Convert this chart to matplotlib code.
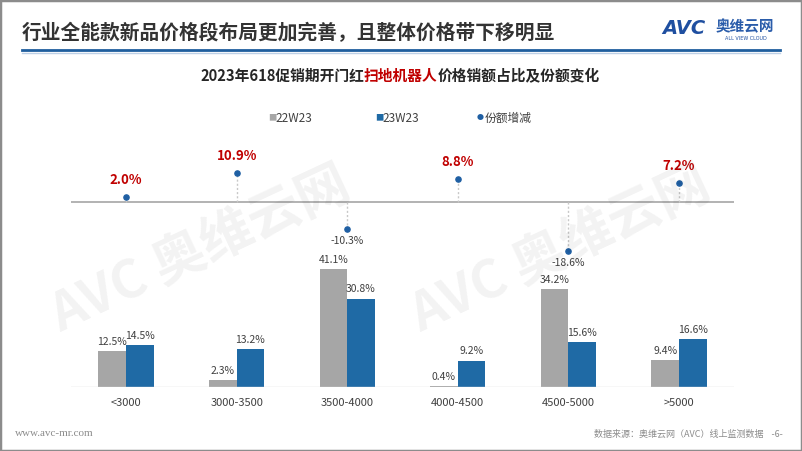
import matplotlib
matplotlib.use("Agg")
import matplotlib.pyplot as plt
import numpy as np
from matplotlib.patches import Rectangle
from matplotlib.lines import Line2D

plt.rcParams['font.family'] = ['Noto Sans CJK SC', 'DejaVu Sans']

categories = ['<3000', '3000-3500', '3500-4000', '4000-4500', '4500-5000', '>5000']
share_22w23 = [12.5, 2.3, 41.1, 0.4, 34.2, 9.4]
share_23w23 = [14.5, 13.2, 30.8, 9.2, 15.6, 16.6]
share_change = [2.0, 10.9, -10.3, 8.8, -18.6, 7.2]

GRAY = '#A6A6A6'
BLUE = '#1F6AA5'
DOT = '#1F5FA3'
RED = '#C00000'
TXT = '#404040'

W, H = 802, 451
fig = plt.figure(figsize=(W / 100, H / 100), dpi=100)


def fx(px):
    return px / W


def fy(py):
    return 1 - py / H


# outer frame
fig.patches.append(Rectangle((0, 0), 1, 1, transform=fig.transFigure, fill=False,
                             edgecolor='#8C8C8C', linewidth=2.5))

# header
fig.text(fx(22), fy(33), '行业全能款新品价格段布局更加完善，且整体价格带下移明显',
         fontsize=14.2, fontweight='bold', color='#333333', va='center', ha='left')
fig.add_artist(Line2D([fx(22), fx(780)], [fy(50), fy(50)], transform=fig.transFigure,
                      color='#1F5E9E', linewidth=2))
fig.add_artist(Line2D([fx(22), fx(780)], [fy(52.5), fy(52.5)], transform=fig.transFigure,
                      color='#BDD0E6', linewidth=1))

# logo
fig.text(fx(662), fy(29), 'AVC', fontsize=14, fontweight='bold', fontstyle='italic',
         color='#1F4FA0', va='center', ha='left', family=['DejaVu Sans'])
fig.text(fx(716), fy(26), '奥维云网', fontsize=10.5, fontweight='bold', color='#2A5CAA',
         va='center', ha='left')
fig.text(fx(725), fy(38), 'ALL VIEW CLOUD', fontsize=3.5, color='#1F4FA0',
         va='center', ha='left', family=['DejaVu Sans'])

# watermarks
for wx, wy in [(200, 250), (560, 250)]:
    fig.text(fx(wx), fy(wy), 'AVC 奥维云网', fontsize=38, fontweight='bold',
             color='#000000', alpha=0.05, rotation=25, ha='center', va='center')

# chart title (multi-colour)
fig.canvas.draw()
r = fig.canvas.get_renderer()
t1 = fig.text(fx(200), fy(76), '2023年618促销期开门红', fontsize=10.6, fontweight='bold',
              color='#262626', va='center', ha='left')
bb = t1.get_window_extent(r)
t2 = fig.text(bb.x1 / fig.bbox.width, fy(76), '扫地机器人', fontsize=10.6, fontweight='bold',
              color=RED, va='center', ha='left')
bb2 = t2.get_window_extent(r)
fig.text(bb2.x1 / fig.bbox.width, fy(76), '价格销额占比及份额变化', fontsize=10.6,
         fontweight='bold', color='#262626', va='center', ha='left')

# legend
fig.text(fx(268), fy(118), '■', fontsize=6, color=GRAY, va='center', ha='left')
fig.text(fx(275), fy(118), '22W23', fontsize=8.5, color=TXT, va='center', ha='left')
fig.text(fx(375), fy(118), '■', fontsize=6, color=BLUE, va='center', ha='left')
fig.text(fx(382), fy(118), '23W23', fontsize=8.5, color=TXT, va='center', ha='left')
fig.text(fx(477), fy(118), '●', fontsize=5, color=DOT, va='center', ha='left')
fig.text(fx(485), fy(118), '份额增减', fontsize=8.5, color=TXT, va='center', ha='left')

x = np.arange(len(categories))

# bottom: bars
left_px, right_px = 70.7, 734.3
axb = fig.add_axes([fx(left_px), fy(387), fx(right_px - left_px), (387 - 250) / H])
w = 0.25
b1 = axb.bar(x - w / 2, share_22w23, width=w, color=GRAY)
b2 = axb.bar(x + w / 2, share_23w23, width=w, color=BLUE)
for rects, vals in [(b1, share_22w23), (b2, share_23w23)]:
    for rect, v in zip(rects, vals):
        axb.annotate(f'{v:.1f}%', (rect.get_x() + rect.get_width() / 2, v),
                     xytext=(0, 3), textcoords='offset points', ha='center',
                     va='bottom', fontsize=7.5, color=TXT)
axb.set_xlim(-0.5, len(categories) - 0.5)
axb.set_ylim(0, 47.7)
axb.axhline(0, color='#D9D9D9', linewidth=1)
axb.set_xticks(x)
axb.set_xticklabels(categories, fontsize=8, color=TXT)
axb.tick_params(axis='x', length=0, pad=8)
axb.set_yticks([])
for s in axb.spines.values():
    s.set_visible(False)
axb.patch.set_alpha(0)

# top: share change
axt = fig.add_axes([fx(left_px), fy(265), fx(right_px - left_px), (265 - 140) / H])
axt.set_xlim(-0.5, len(categories) - 0.5)
axt.set_ylim(-23.8, 23.4)
axt.axhline(0, color='#A6A6A6', linewidth=1.2)
axt.vlines(x, 0, share_change, colors='#C8C8C8', linestyles=(0, (1.5, 1.5)), linewidth=1)
axt.scatter(x, share_change, s=14, color=DOT, zorder=3)
for xi, v in zip(x, share_change):
    if v >= 0:
        axt.annotate(f'{v:.1f}%', (xi, v), xytext=(0, 7), textcoords='offset points',
                     ha='center', va='bottom', fontsize=9.5, fontweight='bold', color=RED)
    else:
        axt.annotate(f'{v:.1f}%', (xi, v), xytext=(0, -5), textcoords='offset points',
                     ha='center', va='top', fontsize=7.5, color=TXT)
axt.set_xticks([])
axt.set_yticks([])
for s in axt.spines.values():
    s.set_visible(False)
axt.patch.set_alpha(0)

# footer
fig.text(fx(15), fy(434), 'www.avc-mr.com', fontsize=8, color='#8C8C8C',
         va='center', ha='left', family=['Liberation Serif', 'DejaVu Serif'])
fig.text(fx(783), fy(434), '数据来源：奥维云网（AVC）线上监测数据    -6-', fontsize=6.5,
         color='#8C8C8C', va='center', ha='right')

fig.savefig('out.png', dpi=100)
